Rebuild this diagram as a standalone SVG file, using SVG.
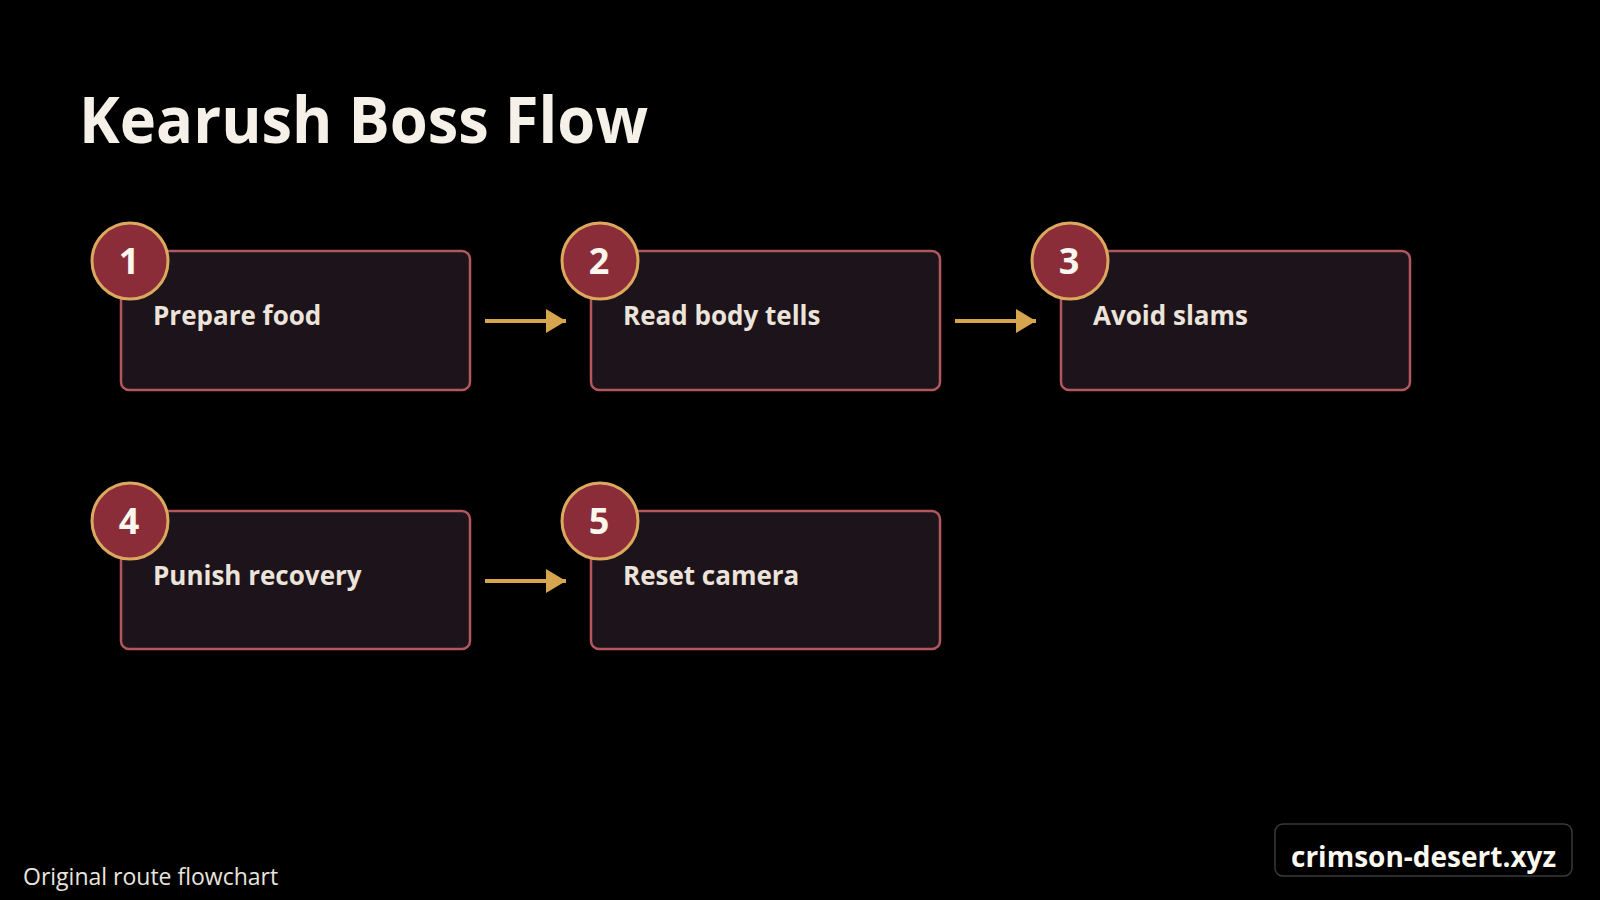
<svg xmlns="http://www.w3.org/2000/svg" width="1600" height="900" viewBox="0 0 1600 900">
<defs>
<style>
.bg{fill:#000}
.box{fill:#1c141a;stroke:#b2565f;stroke-width:2.5}
.badge{fill:#8a2d39;stroke:#dba85e;stroke-width:3}
.num{font-family:"Open Sans","Noto Sans","DejaVu Sans",sans-serif;font-weight:700;font-size:36px;fill:#fbf6ee;text-anchor:middle}
.lbl{font-family:"Open Sans","Noto Sans","DejaVu Sans",sans-serif;font-weight:700;font-size:26px;fill:#ece3da}
.title{font-family:"Open Sans","Noto Sans","DejaVu Sans",sans-serif;font-weight:700;font-size:64px;fill:#f6f1e8}
.foot{font-family:"Open Sans","Noto Sans","DejaVu Sans",sans-serif;font-size:23px;fill:#e8e4de}
.brand{font-family:"Open Sans","Noto Sans","DejaVu Sans",sans-serif;font-weight:700;font-size:28px;fill:#fbf8f0}
.conn line{stroke:#d6a64f;stroke-width:4}
</style>
<marker id="ah" viewBox="0 0 20 24" refX="20" refY="12" markerWidth="20" markerHeight="24" markerUnits="userSpaceOnUse" orient="auto">
<path d="M0,0 L20,12 L0,24 Z" fill="#d6a64f"/>
</marker>
</defs>
<rect class="bg" x="0" y="0" width="1600" height="900"/>
<text class="title" x="79" y="143" textLength="569" lengthAdjust="spacingAndGlyphs">Kearush Boss Flow</text>

<g id="connectors" class="conn">
<line x1="485" y1="321" x2="566" y2="321" marker-end="url(#ah)"/>
<line x1="955" y1="321" x2="1036" y2="321" marker-end="url(#ah)"/>
<line x1="485" y1="581" x2="566" y2="581" marker-end="url(#ah)"/>
</g>

<g id="node1">
<rect class="box" x="121" y="251" width="349" height="139" rx="8"/>
<circle class="badge" cx="130" cy="261" r="38"/>
<text class="num" x="129" y="274">1</text>
<text class="lbl" x="153" y="325">Prepare food</text>
</g>
<g id="node2">
<rect class="box" x="591" y="251" width="349" height="139" rx="8"/>
<circle class="badge" cx="600" cy="261" r="38"/>
<text class="num" x="599" y="274">2</text>
<text class="lbl" x="623" y="325">Read body tells</text>
</g>
<g id="node3">
<rect class="box" x="1061" y="251" width="349" height="139" rx="8"/>
<circle class="badge" cx="1070" cy="261" r="38"/>
<text class="num" x="1069" y="274">3</text>
<text class="lbl" x="1093" y="325">Avoid slams</text>
</g>
<g id="node4">
<rect class="box" x="121" y="511" width="349" height="138" rx="8"/>
<circle class="badge" cx="130" cy="521" r="38"/>
<text class="num" x="129" y="534">4</text>
<text class="lbl" x="153" y="585">Punish recovery</text>
</g>
<g id="node5">
<rect class="box" x="591" y="511" width="349" height="138" rx="8"/>
<circle class="badge" cx="600" cy="521" r="38"/>
<text class="num" x="599" y="534">5</text>
<text class="lbl" x="623" y="585">Reset camera</text>
</g>

<text class="foot" x="23" y="885">Original route flowchart</text>
<g id="brand">
<rect x="1275" y="824" width="297" height="52" rx="8" fill="#000" stroke="#3a3a3a" stroke-width="1.5"/>
<text class="brand" x="1291" y="867">crimson-desert.xyz</text>
</g>
</svg>
